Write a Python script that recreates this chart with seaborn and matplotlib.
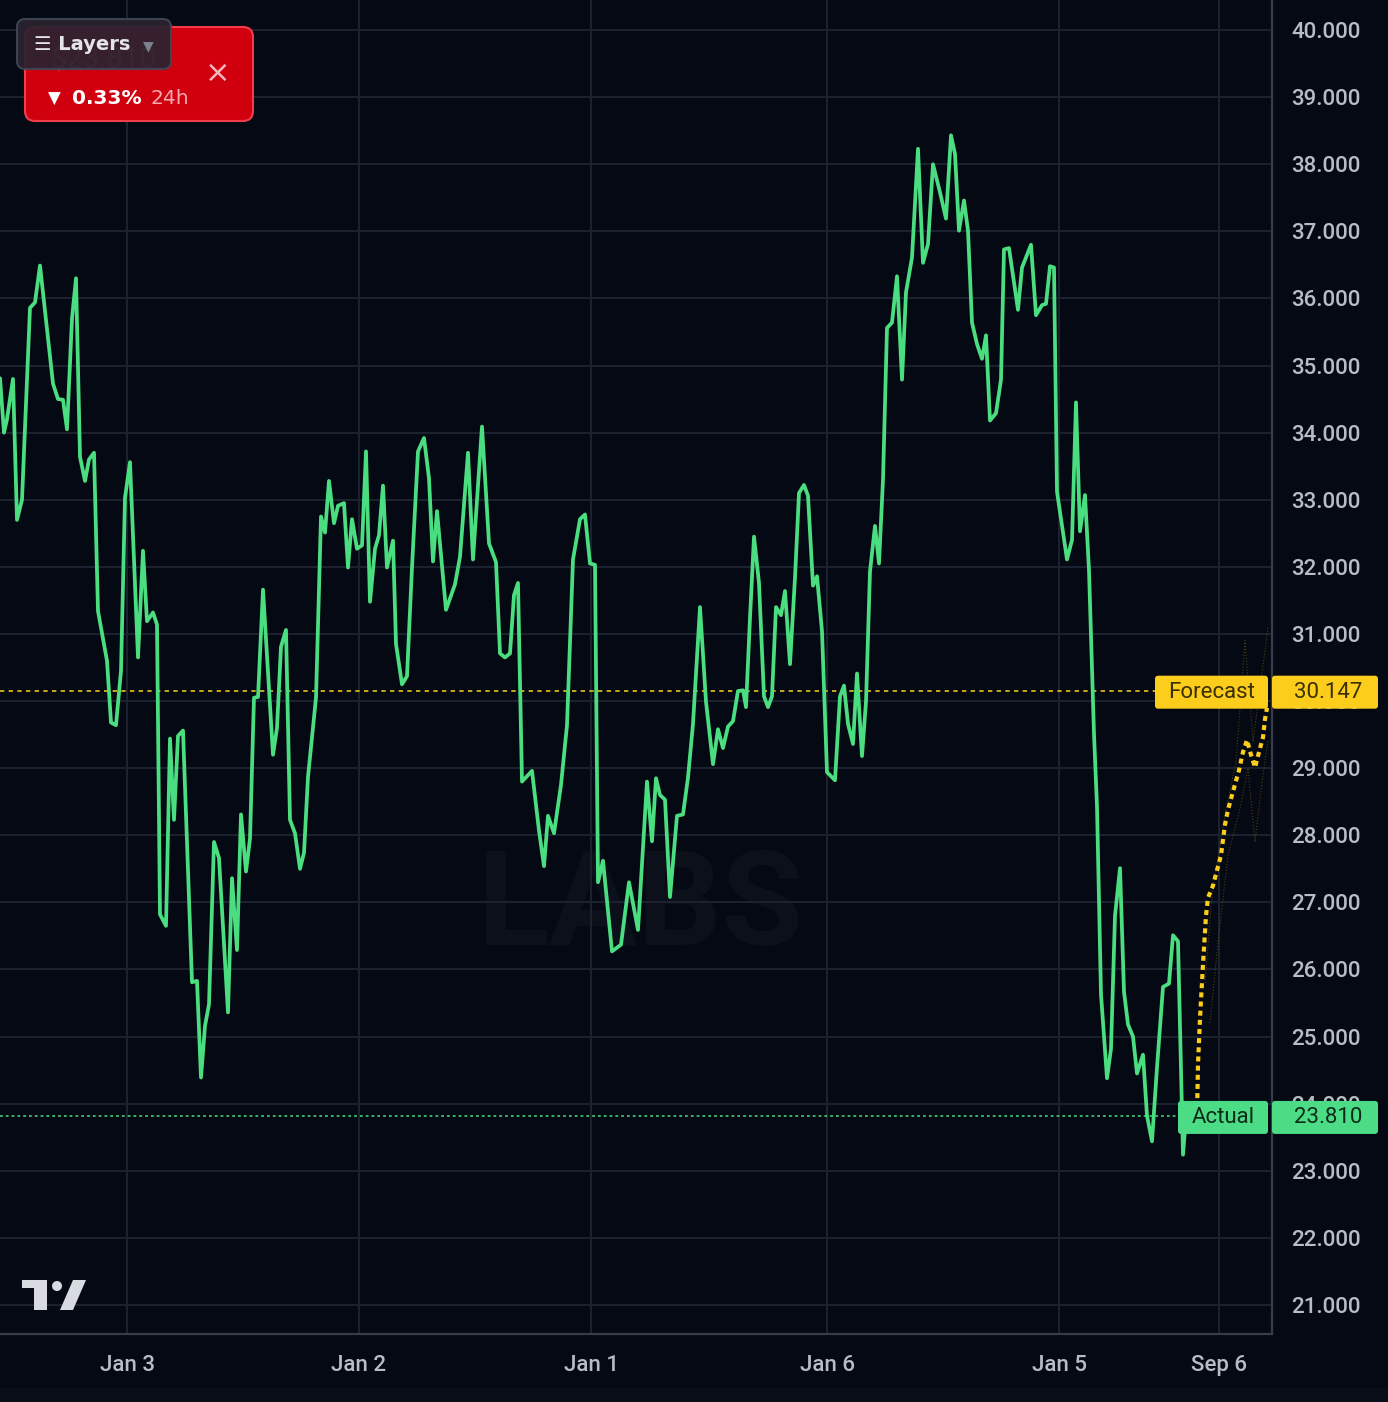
import matplotlib
matplotlib.use('Agg')
import matplotlib.pyplot as plt
import seaborn as sns
from matplotlib.patches import FancyBboxPatch, Polygon, Rectangle, Circle
from matplotlib.transforms import IdentityTransform

# ---- data (bar index, price) ----
bar = [0, 4, 7, 13, 17, 22, 30, 35, 40, 53, 58, 63, 67, 72, 76, 80, 85, 89, 94, 98,
       107, 111, 116, 121, 125, 130, 138, 143, 147, 153, 157, 160, 166, 170, 174, 178,
       183, 192, 197, 201, 205, 209, 214, 219, 228, 232, 237, 241, 246, 250, 254, 258,
       263, 273, 277, 281, 286, 290, 295, 300, 304, 308, 316, 321, 325, 329,
       334, 338, 344, 348, 352, 357, 362, 366, 370, 375, 379, 383, 387, 393, 396, 402,
       407, 412, 418, 424, 429, 433, 437, 446, 455, 460, 468, 473, 482, 489, 496, 500,
       505, 510, 514, 518, 522, 527, 532, 539, 544, 548, 554, 561, 567, 573, 580, 585,
       590, 595, 598, 603, 612, 621, 629, 638, 647, 652, 656, 660,
       665, 670, 677, 683, 688, 693, 700, 706, 713, 718, 723, 728, 733, 738, 743, 746,
       750, 754, 759, 764, 768, 772, 776, 781, 785, 790, 795, 799, 804, 808, 813, 817,
       822, 827, 835, 840, 844, 848, 853, 857, 862, 866, 870, 875, 879, 883, 887, 892,
       897, 902, 906, 912, 918, 923, 928, 933, 940, 946, 951, 955, 959, 964, 968, 972,
       977, 982, 986, 990, 996, 1001, 1004, 1009, 1018, 1022, 1031, 1036, 1042, 1046,
       1050, 1054, 1057, 1067, 1072, 1076, 1080, 1085, 1089, 1094, 1097, 1101, 1107,
       1111, 1115, 1120, 1124, 1128, 1133, 1137, 1143, 1147, 1152, 1157, 1163, 1169,
       1173, 1178, 1183, 1186]
close = [34.81, 34.00, 34.20, 34.80, 32.70, 33.00, 35.86, 35.94, 36.49, 34.73, 34.50,
         34.49, 34.05, 35.70, 36.30, 33.64, 33.28, 33.60, 33.70, 31.34, 30.60, 29.68,
         29.64, 30.45, 33.03, 33.56, 30.65, 32.24, 31.19, 31.32, 31.14, 26.82, 26.65,
         29.44, 28.23, 29.48, 29.56, 25.81, 25.83, 24.39, 25.16, 25.48, 27.90, 27.66,
         25.36, 27.36, 26.29, 28.31, 27.46, 27.95, 30.05, 30.06, 31.66, 29.20, 29.60,
         30.81, 31.06, 28.23, 28.03, 27.50, 27.74, 28.87, 30.05, 32.75, 32.51, 33.28,
         32.65, 32.91, 32.95, 31.99, 32.71, 32.27, 32.32, 33.72, 31.48, 32.27, 32.47,
         33.21, 31.99, 32.39, 30.85, 30.25, 30.37, 31.99, 33.72, 33.92, 33.32, 32.08,
         32.83, 31.36, 31.74, 32.15, 33.70, 32.11, 34.09, 32.35, 32.07, 30.71, 30.65,
         30.71, 31.58, 31.76, 28.80, 28.88, 28.96, 28.07, 27.54, 28.29, 28.03, 28.75,
         29.64, 32.11, 32.71, 32.78, 32.05, 32.03, 27.30, 27.62, 26.27, 26.37, 27.30,
         26.59, 28.80, 27.91, 28.85, 28.60,
         28.53, 27.08, 28.29, 28.31, 28.86, 29.66, 31.40, 29.99, 29.06, 29.58, 29.30,
         29.62, 29.70, 30.15, 30.16, 29.91, 31.24, 32.45, 31.76, 30.07, 29.91, 30.07,
         31.40, 31.28, 31.64, 30.55, 31.84, 33.10, 33.22, 33.06, 31.72, 31.86, 31.04,
         28.94, 28.82, 30.07, 30.23, 29.66, 29.36, 30.41, 29.18, 29.99, 31.93, 32.61,
         32.05, 33.30, 35.56, 35.64, 36.33, 34.79, 36.09, 36.61, 38.23, 36.53, 36.81,
         38.00, 37.58, 37.19, 38.43, 38.15, 37.01, 37.46, 37.01, 35.64, 35.32, 35.10,
         35.45, 34.18, 34.29, 34.79, 36.73, 36.75, 35.83, 36.46, 36.80, 35.75, 35.90,
         35.92, 36.48, 36.46, 33.12, 32.11, 32.40, 34.45, 32.53, 33.07, 31.95, 29.51,
         28.43, 25.63, 24.38, 24.82, 26.80, 27.51, 25.67, 25.18, 25.00, 24.45, 24.73,
         23.82, 23.44, 24.54, 25.74, 25.79, 26.51, 26.42, 23.24, 23.81]

fc_bar = [1197, 1198, 1200, 1203, 1206, 1208, 1213, 1217, 1221, 1225, 1228, 1233,
          1239, 1243, 1247, 1251, 1255, 1259, 1263, 1265, 1267]
fc_val = [23.81, 24.59, 25.27, 26.08, 26.80, 27.07, 27.25, 27.48, 27.70, 28.16, 28.38,
          28.65, 28.97, 29.24, 29.42, 29.20, 29.01, 29.24, 29.46, 29.73, 29.90]
band_hi_bar = [1205, 1212, 1225, 1236, 1245, 1253, 1262, 1268]
band_hi = [25.8, 27.1, 28.3, 29.1, 30.9, 29.4, 30.4, 31.1]
band_lo_bar = [1210, 1218, 1228, 1240, 1248, 1255, 1262, 1268]
band_lo = [25.2, 26.4, 27.7, 28.4, 29.0, 27.9, 28.8, 29.4]

tick_pos = [127, 359, 591, 827, 1059, 1219]
tick_lab = ['Jan 3', 'Jan 2', 'Jan 1', 'Jan 6', 'Jan 5', 'Sep 6']
y_ticks = list(range(21, 41))

actual = 23.810
forecast = 30.147
last_price = '$23.810'
change = '0.33%'

# ---- style ----
BG = '#040913'
GRID = '#1c2230'
GREEN = '#4ade80'
YELLOW = '#fccd1b'
TXT = '#b8bcc5'

sns.set_style('dark', rc={'axes.facecolor': BG, 'figure.facecolor': BG,
                          'grid.color': GRID, 'axes.edgecolor': '#363c4a'})
plt.rcParams['font.family'] = ['Roboto', 'DejaVu Sans']

W, H = 1388, 1402
fig = plt.figure(figsize=(W / 100, H / 100), dpi=100)
ax = fig.add_axes([0, (H - 1334) / H, 1272 / W, 1334 / H])

# faint watermark
ax.text(640, 26.9, 'LABS', fontsize=95, color='#0b101b', ha='center', va='center',
        fontweight='bold', zorder=0.5)

sns.lineplot(x=bar, y=close, ax=ax, color=GREEN, lw=2.7, estimator=None,
             sort=False, zorder=4)
ax.lines[-1].set_solid_joinstyle('round')

# forecast band and path
sns.lineplot(x=band_hi_bar, y=band_hi, ax=ax, color='#7a6512', lw=0.8,
             estimator=None, sort=False, linestyle=':', alpha=0.6, zorder=3)
sns.lineplot(x=band_lo_bar, y=band_lo, ax=ax, color='#7a6512', lw=0.8,
             estimator=None, sort=False, linestyle=':', alpha=0.6, zorder=3)
fl = sns.lineplot(x=fc_bar, y=fc_val, ax=ax, color=YELLOW, lw=3.0, estimator=None,
                  sort=False, zorder=5)
fl.lines[-1].set_dashes((1.2, 1.0))
fl.lines[-1].set_dash_capstyle('butt')
ax.plot([fc_bar[0]], [fc_val[0]], 'o', ms=8, color='#a3a7b0', zorder=6)

# horizontal reference lines
ax.plot([0, 1155], [forecast, forecast], color='#e8c21a', lw=1.2,
        dashes=(2.6, 2.6), zorder=3)
ax.plot([0, 1178], [actual, actual], color=GREEN, lw=1.1,
        dashes=(1.8, 2.0), zorder=3)

ax.set_xlim(0, 1272)
ax.set_ylim(20.568, 40.447)
ax.set_xticks(tick_pos)
ax.set_xticklabels(tick_lab)
ax.yaxis.tick_right()
ax.set_yticks(y_ticks)
ax.set_yticklabels([f'{v:.3f}' for v in y_ticks])
ax.tick_params(axis='y', length=0, pad=14, labelsize=16, labelcolor=TXT)
ax.tick_params(axis='x', length=0, pad=15, labelsize=16, labelcolor=TXT)
for t in ax.get_xticklabels() + ax.get_yticklabels():
    t.set_fontweight('medium')
ax.grid(True, color=GRID, lw=1.4)
ax.set_xlabel('')
ax.set_ylabel('')
for s in ['left', 'top']:
    ax.spines[s].set_visible(False)
for s in ['right', 'bottom']:
    ax.spines[s].set_color('#363c4a')
    ax.spines[s].set_linewidth(1.6)

ID = IdentityTransform()


def box(x0, x1, yc, h, fc, r=3, ec='none', lw=0, alpha=1.0, z=10):
    p = FancyBboxPatch((x0, yc - h / 2), x1 - x0, h,
                       boxstyle=f'round,pad=0,rounding_size={r}', fc=fc, ec=ec,
                       lw=lw, alpha=alpha, transform=ID, zorder=z)
    fig.add_artist(p)


def label(x, y, s, z=11, **kw):
    t = fig.text(x, y, s, transform=ID, zorder=z, **kw)
    return t


# price labels on the right scale
for val, name, col, x0, tcol in [(forecast, 'Forecast', YELLOW, 1155, '#3a3000'),
                                 (actual, 'Actual', '#4bdc85', 1178, '#0c2c19')]:
    yc = ax.transData.transform((0, val))[1] - 1
    box(x0, 1268, yc, 33, col)
    box(1272, 1378, yc, 33, col)
    label((x0 + 1268) / 2, yc, name, ha='center', va='center', fontsize=16,
          color=tcol)
    label(1328, yc, f'{val:.3f}', ha='center', va='center', fontsize=16,
          color=tcol)

# red price widget + layers button
box(25, 253, H - 74, 94, '#d0000f', r=10, ec='#ef3d4c', lw=1.5)
label(50, H - 60, last_price, ha='left', va='center', fontsize=21,
      color='#ffffff', alpha=0.35)
label(48, H - 99, '\u25bc', ha='left', va='center', fontsize=12,
      color='white', family='DejaVu Sans')
label(72, H - 99, change, ha='left', va='center', fontsize=14.5,
      color='white', fontweight='bold', family='DejaVu Sans')
label(150, H - 99, '24h', ha='left', va='center', fontsize=14.5,
      color='#f6a9b0', family='DejaVu Sans')
label(218, H - 73, '\u00d7', ha='center', va='center', fontsize=22,
      color='#f6b7bd', family='DejaVu Sans')
box(17, 171, H - 44, 50, '#2a2330', r=8, ec='#3f4656', lw=1.5, alpha=0.93, z=12)
label(34, H - 45, '\u2630 Layers', ha='left', va='center', fontsize=14,
      color='#e4e4ea', fontweight='bold', family='DejaVu Sans', z=13)
label(148, H - 46, '\u25bc', ha='center', va='center', fontsize=10,
      color='#7a8090', family='DejaVu Sans', z=13)

# TradingView-style logo
LOGO = '#d9dbe3'
fig.add_artist(Rectangle((22, H - 1288), 20, 8, fc=LOGO, ec='none', transform=ID, zorder=10))
fig.add_artist(Rectangle((34, H - 1310), 13, 30, fc=LOGO, ec='none', transform=ID, zorder=10))
fig.add_artist(Circle((57, H - 1286), 5, fc=LOGO, ec='none', transform=ID, zorder=10))
fig.add_artist(Polygon([(60, H - 1310), (73, H - 1280), (86, H - 1280), (73, H - 1310)],
                       fc=LOGO, ec='none', transform=ID, zorder=10))

# bottom strip
fig.add_artist(Rectangle((0, 0), W, 14, fc='#0a0e18', ec='none', transform=ID, zorder=10))

fig.savefig('out.png', dpi=100, facecolor=BG)
